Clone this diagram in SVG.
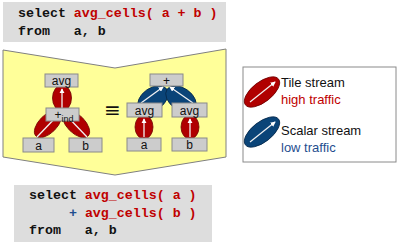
<svg xmlns="http://www.w3.org/2000/svg" width="400" height="246" viewBox="0 0 400 246">
<defs>
<marker id="ah" viewBox="0 0 6 6" refX="5" refY="3" markerWidth="4" markerHeight="4" orient="auto">
<path d="M0,0 L6,3 L0,6 z" fill="#ffffff"/>
</marker>
<style>
.code{font-family:"Liberation Mono","Courier New",monospace;font-weight:bold;font-size:13.3px;fill:#111;}
.box{fill:#cccccc;stroke:#8a8a8a;stroke-width:1;}
.lbl{font-family:"Liberation Sans",Arial,sans-serif;font-size:12px;fill:#111;text-anchor:middle;}
.tile{fill:#b00000;stroke:#700000;stroke-width:0.8;}
.scal{fill:#0a4478;stroke:#06284a;stroke-width:0.8;}
.arr{stroke:#f2f2f2;stroke-width:1.3;fill:none;marker-end:url(#ah);}
.leg{font-family:"Liberation Sans",Arial,sans-serif;font-size:13px;fill:#111;}
.red{fill:#c00000;}
.blu{fill:#1f4e8f;}
</style>
</defs>
<rect width="400" height="246" fill="#ffffff"/>

<g id="query-top">
<rect x="3" y="2" width="223" height="40" fill="#dddddd"/>
<text class="code" x="18" y="17">select <tspan class="red">avg_cells( a + b )</tspan></text>
<text class="code" x="18" y="35" xml:space="preserve">from   a, b</text>
</g>

<g id="transform">
<polygon points="3,50 115,68 226,49 226,157 115,175 3,157" fill="#ffff99" stroke="#808080" stroke-width="1"/>
<text x="112.5" y="117" font-family="DejaVu Sans,sans-serif" font-size="20" text-anchor="middle" fill="#111">≡</text>
</g>

<g id="connectors">
<ellipse class="tile" cx="62" cy="98" rx="9.5" ry="13"/>
<ellipse class="tile" cx="48" cy="124" rx="17" ry="9" transform="rotate(-45 48 124)"/>
<ellipse class="tile" cx="76" cy="124" rx="17" ry="9" transform="rotate(45 76 124)"/>
<ellipse class="scal" cx="153" cy="99" rx="17" ry="11" transform="rotate(-35 153 99)"/>
<ellipse class="scal" cx="181" cy="99" rx="17" ry="11" transform="rotate(35 181 99)"/>
<ellipse class="tile" cx="144" cy="127" rx="9" ry="12"/>
<ellipse class="tile" cx="190" cy="127" rx="9" ry="12"/>
<line class="arr" x1="62" y1="108" x2="62" y2="89"/>
<line class="arr" x1="37" y1="137" x2="59" y2="114"/>
<line class="arr" x1="87" y1="137" x2="65" y2="114"/>
<line class="arr" x1="144" y1="137" x2="144" y2="119"/>
<line class="arr" x1="190" y1="137" x2="190" y2="119"/>
<line class="arr" x1="141" y1="103" x2="163" y2="87"/>
<line class="arr" x1="193" y1="103" x2="170" y2="87"/>
</g>

<g id="l-avg"><rect class="box" x="45" y="74" width="33" height="13"/><text class="lbl" x="61.5" y="85">avg</text></g>
<g id="l-plus"><rect class="box" x="46" y="108" width="33" height="13"/><text class="lbl" x="64" y="119">+<tspan font-size="9" dy="3">ind</tspan></text></g>
<g id="l-a"><rect class="box" x="23" y="138" width="31" height="14"/><text class="lbl" x="38.5" y="149.5">a</text></g>
<g id="l-b"><rect class="box" x="69" y="138" width="33" height="14"/><text class="lbl" x="85.5" y="149.5">b</text></g>

<g id="r-plus"><rect class="box" x="150" y="74" width="33" height="12"/><text class="lbl" x="166.5" y="84.5">+</text></g>
<g id="r-avg-a"><rect class="box" x="127" y="103" width="35" height="14"/><text class="lbl" x="144.5" y="114.5">avg</text></g>
<g id="r-avg-b"><rect class="box" x="172" y="103" width="35" height="14"/><text class="lbl" x="189.5" y="114.5">avg</text></g>
<g id="r-a"><rect class="box" x="127" y="138" width="34" height="13"/><text class="lbl" x="144" y="149">a</text></g>
<g id="r-b"><rect class="box" x="172" y="138" width="35" height="13"/><text class="lbl" x="189.5" y="149">b</text></g>

<g id="legend">
<rect x="243" y="67" width="153" height="95" fill="#ffffff" stroke="#8a8a8a" stroke-width="1"/>
<ellipse class="tile" cx="262" cy="92" rx="21" ry="10" transform="rotate(-38 262 92)"/>
<line class="arr" x1="250" y1="102" x2="275" y2="82"/>
<text class="leg" x="281" y="87">Tile stream</text>
<text class="leg red" x="281" y="104">high traffic</text>
<ellipse class="scal" cx="262" cy="132" rx="21" ry="10" transform="rotate(-38 262 132)"/>
<line class="arr" x1="250" y1="142" x2="275" y2="122"/>
<text class="leg" x="281" y="135">Scalar stream</text>
<text class="leg blu" x="281" y="152">low traffic</text>
</g>

<g id="query-bottom">
<rect x="14" y="185" width="198" height="57" fill="#dddddd"/>
<text class="code" x="29" y="199">select <tspan class="red">avg_cells( a )</tspan></text>
<text class="code" x="29" y="217" xml:space="preserve">     <tspan class="blu">+</tspan> <tspan class="red">avg_cells( b )</tspan></text>
<text class="code" x="29" y="234" xml:space="preserve">from   a, b</text>
</g>
</svg>
